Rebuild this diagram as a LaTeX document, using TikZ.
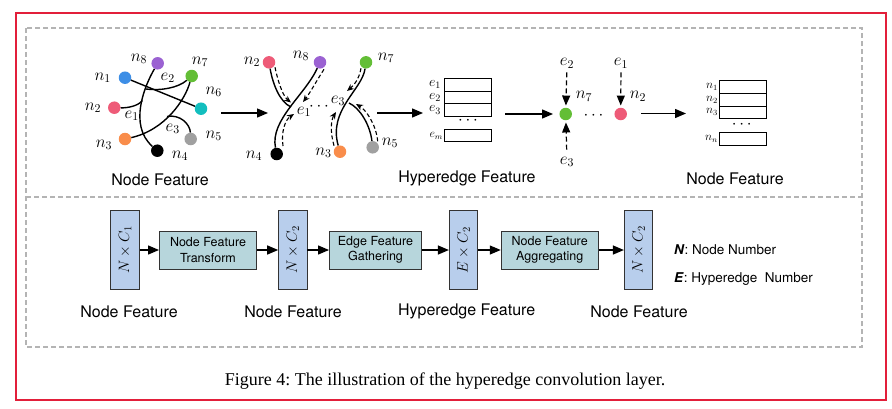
\RequirePackage{fix-cm}
\documentclass[tikz,border=0pt]{standalone}
\usepackage{fontspec}
\setmainfont{Liberation Serif}
\newfontfamily\hv{TeX Gyre Heros}
\usepackage{graphicx}
\usepackage{tikz}
\usetikzlibrary{arrows.meta}

\definecolor{nblue}{HTML}{3D8EE6}
\definecolor{npink}{HTML}{EE5B78}
\definecolor{norange}{HTML}{F98D4B}
\definecolor{ngray}{HTML}{A0A0A0}
\definecolor{ncyan}{HTML}{13BEBE}
\definecolor{ngreen}{HTML}{63BE36}
\definecolor{npurple}{HTML}{9B62D2}
\definecolor{featblue}{HTML}{B8CEEC}
\definecolor{opteal}{HTML}{B7D6DC}
\definecolor{framered}{HTML}{E21F3A}
\definecolor{framegray}{HTML}{B4B4B4}

\tikzset{
  dot/.style={circle, inner sep=0pt, minimum size=12.5pt},
  mlbl/.style={inner sep=0pt, font=\fontsize{17}{17}\selectfont},
  tlbl/.style={inner sep=0pt, font=\fontsize{14}{14}\selectfont},
  slbl/.style={inner sep=0pt, font=\fontsize{12}{12}\selectfont},
  ttl/.style={inner sep=0pt, font=\hv\fontsize{16}{18}\selectfont},
  arr/.style={line width=1.3pt, -{Triangle[length=11pt,width=9pt]}},
  hyp/.style={line width=1.4pt},
  darr/.style={line width=1.1pt, dash pattern=on 4pt off 2.5pt, -{Stealth[length=7pt,width=6pt]}},
  vdarr/.style={line width=1.2pt, dash pattern=on 5pt off 3pt, -{Triangle[length=10pt,width=8pt]}},
  cell/.style={draw, line width=1pt, minimum width=47pt, minimum height=12.6pt, inner sep=0pt, outer sep=0pt},
  feat/.style={draw=black!80, fill=featblue, line width=0.9pt, minimum width=28.3pt, minimum height=79.3pt, inner sep=0pt, font=\fontsize{15}{15}\selectfont},
  op/.style={draw=black!80, fill=opteal, line width=0.9pt, minimum height=38pt, inner sep=0pt, align=center, font=\hv\fontsize{12.5}{15.5}\selectfont},
  frame/.style={framegray, line width=1.2pt, dash pattern=on 5pt off 3pt}
}

\begin{document}
\begin{tikzpicture}[x=1pt, y=-1pt]
    \useasboundingbox (0,0) rectangle (892,408);

    % Frames
    \draw[framered, line width=2pt] (16,13) rectangle (886,400);
    \draw[frame] (26,28) rectangle (862,347);
    \draw[frame] (26,197) -- (862,197);

    % Hypergraph
    \node[dot, fill=nblue] (a1) at (125,77.7) {};
    \node[dot, fill=npink] (a2) at (114.3,107.7) {};
    \node[dot, fill=norange] (a3) at (125,139) {};
    \node[dot, fill=black] (a4) at (157.3,150.7) {};
    \node[dot, fill=ngray] (a5) at (190.7,139) {};
    \node[dot, fill=ncyan] (a6) at (201,108.7) {};
    \node[dot, fill=ngreen] (a7) at (191.7,76) {};
    \node[dot, fill=npurple] (a8) at (157.7,63.3) {};
    \coordinate (a1j) at (142.5,100.5);
    \coordinate (a2j) at (146,89);
    \coordinate (a3j) at (167,116.5);
    \draw[hyp] (a1) -- (a6);
    \draw[hyp] (a8) .. controls (145,85) and (128,125) .. (a4);
    \draw[hyp] (a2) .. controls (128,108) and (138,106) .. (a1j);
    \draw[hyp] (a7) .. controls (178,88) and (160,91) .. (a2j);
    \draw[hyp] (a7) .. controls (185,100) and (165,130) .. (a3);
    \draw[hyp] (a3j) .. controls (180,114) and (190,124) .. (a5);
    \node[mlbl] (la1) at (102.7,78) {$n_1$};
    \node[mlbl] (la2) at (93,108) {$n_2$};
    \node[mlbl] (la3) at (104,145) {$n_3$};
    \node[mlbl] (la4) at (180,156) {$n_4$};
    \node[mlbl] (la5) at (213.7,136) {$n_5$};
    \node[mlbl] (la6) at (213.7,91.7) {$n_6$};
    \node[mlbl] (la7) at (200,62) {$n_7$};
    \node[mlbl] (la8) at (139,59) {$n_8$};
    \node[mlbl] (le1) at (131.7,116) {$e_1$};
    \node[mlbl] (le2) at (167.7,78) {$e_2$};
    \node[mlbl] (le3) at (172.7,129) {$e_3$};
    \node[ttl] (t1) at (160,180) {Node Feature};

    \coordinate (p1out) at (221,113);
    \coordinate (p2in) at (268,113);
    \draw[arr] (p1out) -- (p2in);

    % Gathering per hyperedge
    \node[dot, fill=npink] (b2) at (269,62.3) {};
    \node[dot, fill=npurple] (b8) at (320,62.3) {};
    \node[dot, fill=ngreen] (b7) at (366,62.3) {};
    \node[dot, fill=black] (b4) at (276.7,154) {};
    \node[dot, fill=norange] (b3) at (340,151.7) {};
    \node[dot, fill=ngray] (b5) at (372.7,147.3) {};
    \coordinate (j1) at (291,107);
    \coordinate (j3) at (349,103);
    \draw[hyp] (b2) .. controls (273,85) and (280,102) .. (j1);
    \draw[hyp] (b8) .. controls (305,95) and (270,120) .. (b4);
    \draw[hyp] (b7) .. controls (362,90) and (328,110) .. (b3);
    \draw[hyp] (b5) .. controls (370,125) and (360,108) .. (j3);
    \draw[darr] ([shift={(6pt,-5pt)}]b2.center) .. controls (279,86) and (284,97) .. ([shift={(0pt,4.5pt)}]j1);
    \draw[darr] ([shift={(4pt,-7pt)}]b8.center) .. controls (317,80) and (310,93) .. ([shift={(12pt,5pt)}]j1);
    \draw[darr] ([shift={(6.3pt,8pt)}]b4.center) .. controls (281,132) and (285,120) .. ([shift={(3pt,-7pt)}]j1);
    \draw[darr] ([shift={(-5pt,-6pt)}]b7.center) .. controls (359,80) and (353,86) .. ([shift={(-2pt,12pt)}]j3);
    \draw[darr] ([shift={(-6pt,6pt)}]b3.center) .. controls (330,132) and (331,120) .. ([shift={(-13pt,-9pt)}]j3);
    \draw[darr] ([shift={(5pt,6pt)}]b5.center) .. controls (376,124) and (366,110) .. ([shift={(7pt,-1pt)}]j3);
    \node[mlbl] (lb2) at (252,61.7) {$n_2$};
    \node[mlbl] (lb8) at (301,56) {$n_8$};
    \node[mlbl] (lb7) at (386,58) {$n_7$};
    \node[mlbl] (lb4) at (254,156) {$n_4$};
    \node[mlbl] (lb3) at (323.5,153) {$n_3$};
    \node[mlbl] (lb5) at (390,143) {$n_5$};
    \node[mlbl] (lbe1) at (304,112) {$e_1$};
    \node[mlbl] (lbdots) at (319,107) {$\cdots$};
    \node[mlbl] (lbe3) at (338,101) {$e_3$};

    \coordinate (p2out) at (377,113);
    \coordinate (p3in) at (423,113);
    \draw[arr] (p2out) -- (p3in);

    % Hyperedge features
    \node[cell] (h1) at (467.7,84.7) {};
    \node[cell] (h2) at (467.7,97.3) {};
    \node[cell] (h3) at (467.7,110) {};
    \node[cell, minimum height=11.7pt] (hm) at (467.7,135.8) {};
    \node[tlbl, anchor=east] (lh1) at ([xshift=-3pt]h1.west) {$e_1$};
    \node[tlbl, anchor=east] (lh2) at ([xshift=-3pt]h2.west) {$e_2$};
    \node[tlbl, anchor=east] (lh3) at ([xshift=-3pt]h3.west) {$e_3$};
    \node[slbl, anchor=east] (lhm) at ([xshift=-1pt]hm.west) {$e_m$};
    \node[mlbl] (hdots) at (468,121) {$\cdots$};
    \node[ttl] (t2) at (467,178) {Hyperedge Feature};

    \coordinate (p3out) at (505,114);
    \coordinate (p4in) at (553,114);
    \draw[arr] (p3out) -- (p4in);

    % Aggregating per node
    \node[dot, fill=ngreen] (d7) at (565.7,114) {};
    \node[dot, fill=npink] (d2) at (620.7,114) {};
    \node[mlbl] (ddots) at (593.5,116) {$\cdots$};
    \node[mlbl] (ld7) at (584,96.5) {$n_7$};
    \node[mlbl] (ld2) at (638,96.5) {$n_2$};
    \node[mlbl] (lde2) at (567,63.3) {$e_2$};
    \node[mlbl] (lde1) at (621,63.3) {$e_1$};
    \node[mlbl] (lde3) at (567,161.7) {$e_3$};
    \draw[vdarr, shorten <=4pt, shorten >=2pt] (lde2) -- (d7);
    \draw[vdarr, shorten <=4pt, shorten >=2pt] (lde1) -- (d2);
    \draw[vdarr, shorten <=7pt, shorten >=2pt] (lde3) -- (d7);

    \coordinate (p4out) at (641,113.5);
    \coordinate (p5in) at (686,113.5);
    \draw[arr] (p4out) -- (p5in);

    % Node features
    \node[cell] (g1) at (742.5,87.2) {};
    \node[cell] (g2) at (742.5,99.8) {};
    \node[cell] (g3) at (742.5,112.3) {};
    \node[cell] (gn) at (742.5,138.8) {};
    \node[slbl, anchor=east] (lg1) at ([xshift=-1pt]g1.west) {$n_1$};
    \node[slbl, anchor=east] (lg2) at ([xshift=-1pt]g2.west) {$n_2$};
    \node[slbl, anchor=east] (lg3) at ([xshift=-1pt]g3.west) {$n_3$};
    \node[slbl, anchor=east] (lgn) at ([xshift=-1pt]gn.west) {$n_n$};
    \node[mlbl] (gdots) at (741.7,124.5) {$\cdots$};
    \node[ttl] (t3) at (735,179) {Node Feature};

    % Layer pipeline
    \node[feat] (f1) at (125,250) {\rotatebox{90}{$N\times C_1$}};
    \node[op, minimum width=97pt] (o1) at (208,250) {Node Feature\\Transform};
    \node[feat] (f2) at (292.8,250) {\rotatebox{90}{$N\times C_2$}};
    \node[op, minimum width=92pt] (o2) at (375.5,250) {Edge Feature\\Gathering};
    \node[feat] (f3) at (463.5,250) {\rotatebox{90}{$E\times C_2$}};
    \node[op, minimum width=97pt] (o3) at (549.7,250) {Node Feature\\Aggregating};
    \node[feat] (f4) at (638.5,250) {\rotatebox{90}{$N\times C_2$}};
    \draw[arr] (f1) -- (o1);
    \draw[arr] (o1) -- (f2);
    \draw[arr] (f2) -- (o2);
    \draw[arr] (o2) -- (f3);
    \draw[arr] (f3) -- (o3);
    \draw[arr] (o3) -- (f4);
    \node[ttl] (tf1) at (129,311.7) {Node Feature};
    \node[ttl] (tf2) at (293,311.7) {Node Feature};
    \node[ttl] (tf3) at (466.7,311.7) {Hyperedge Feature};
    \node[ttl] (tf4) at (639,311.7) {Node Feature};

    % Legend
    \node[anchor=west, inner sep=0pt, font=\hv\fontsize{13.5}{15}\selectfont] (keyN) at (674,250) {\textbf{\textit{N}}: Node Number};
    \node[anchor=west, inner sep=0pt, font=\hv\fontsize{13.5}{15}\selectfont] (keyE) at (674,279) {\textbf{\textit{E}}: Hyperedge\ \ Number};

    % Caption
    \node[font=\fontsize{18}{20}\selectfont] (cap) at (445,381) {\frenchspacing Figure 4: The illustration of the hyperedge convolution layer.};

\end{tikzpicture}
\end{document}
